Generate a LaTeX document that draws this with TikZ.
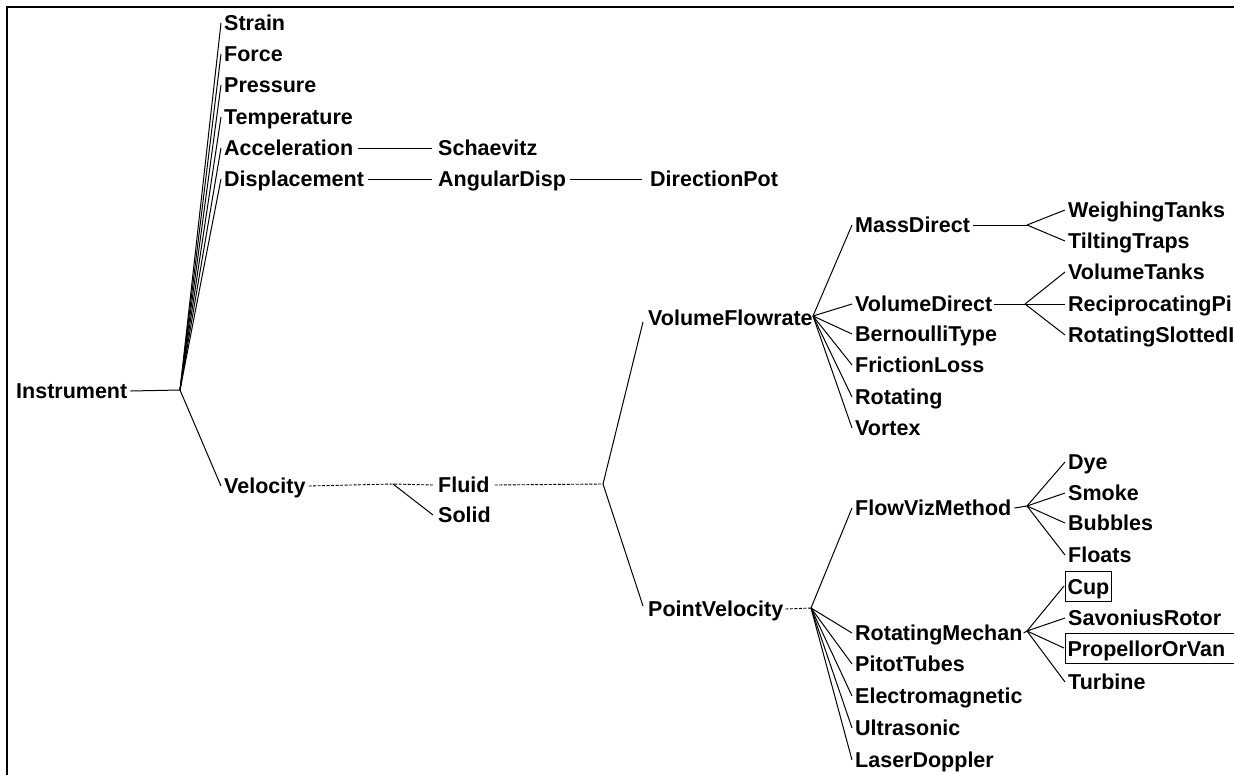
\documentclass[tikz,border=0pt]{standalone}
\usepackage{fontspec}
\setmainfont{Liberation Sans}
\begin{document}
\begin{tikzpicture}[x=1pt,y=-1pt,
  lbl/.style={font=\fontsize{21.5}{24}\selectfont\bfseries, inner sep=0pt, anchor=west, text height=15pt, text depth=0pt},
  boxed/.style={lbl, draw, line width=1pt, inner xsep=2pt, inner ysep=1pt, text height=22pt, text depth=6pt},
  ln/.style={line width=1pt},
  dl/.style={line width=0.9pt, dash pattern=on 3pt off 1.5pt}]
\useasboundingbox (0,0) rectangle (1234,774);
\clip (0,0) rectangle (1234,774);
\fill[white] (0,0) rectangle (1234,774);
\draw[line width=2pt] (7,776) -- (7,7) -- (1236,7);

% nodes
\node[lbl] (inst) at (16,391) {Instrument};
\coordinate (f0) at (180,390);
\node[lbl] (strain) at (224,23) {Strain};
\node[lbl] (force) at (224,54) {Force};
\node[lbl] (press) at (224,85) {Pressure};
\node[lbl] (temp) at (224,117) {Temperature};
\node[lbl] (acc) at (224,148) {Acceleration};
\node[lbl] (disp) at (224,179) {Displacement};
\node[lbl] (vel) at (224,486) {Velocity};
\node[lbl] (sch) at (438,148) {Schaevitz};
\node[lbl] (ang) at (438,179) {AngularDisp};
\node[lbl] (dir) at (650,179) {DirectionPot};
\coordinate (fv) at (393,484);
\node[lbl] (fluid) at (438,485) {Fluid};
\node[lbl] (solid) at (438,515) {Solid};
\coordinate (ff) at (603,484);
\node[lbl] (vf) at (648,318) {VolumeFlowrate};
\node[lbl] (pv) at (648,609) {PointVelocity};
\coordinate (fvf) at (813,316);
\node[lbl] (mass) at (855,225) {MassDirect};
\node[lbl] (vold) at (855,304) {VolumeDirect};
\node[lbl] (bern) at (855,334) {BernoulliType};
\node[lbl] (fric) at (855,365) {FrictionLoss};
\node[lbl] (rot) at (855,397) {Rotating};
\node[lbl] (vort) at (855,428) {Vortex};
\coordinate (fmass) at (1027,225);
\node[lbl] (weigh) at (1068,210) {WeighingTanks};
\node[lbl] (tilt) at (1068,241) {TiltingTraps};
\coordinate (fvold) at (1025,304);
\node[lbl] (vtank) at (1068,272) {VolumeTanks};
\node[lbl] (recip) at (1068,304) {ReciprocatingPi};
\node[lbl] (rslot) at (1068,335) {RotatingSlottedI};
\coordinate (fpv) at (811,608);
\node[lbl] (fviz) at (855,508) {FlowVizMethod};
\node[lbl] (rmech) at (855,633) {RotatingMechan};
\node[lbl] (pitot) at (855,664) {PitotTubes};
\node[lbl] (emag) at (855,696) {Electromagnetic};
\node[lbl] (ultra) at (855,728) {Ultrasonic};
\node[lbl] (laser) at (855,760) {LaserDoppler};
\coordinate (ffviz) at (1027,506);
\node[lbl] (dye) at (1068,462) {Dye};
\node[lbl] (smoke) at (1068,493) {Smoke};
\node[lbl] (bubb) at (1068,523) {Bubbles};
\node[lbl] (flts) at (1068,555) {Floats};
\coordinate (frm) at (1027,631);
\node[boxed] (cup) at (1065,586) {Cup};
\node[lbl] (savo) at (1068,618) {SavoniusRotor};
\node[boxed, text width=172pt, align=left] (prop) at (1065,648) {PropellorOrVan};
\node[lbl] (turb) at (1068,682) {Turbine};

% connectors
\draw[ln] ([xshift=3pt]inst.east) -- (f0);
\foreach \n in {strain,force,press,temp,acc,disp,vel}
  \draw[ln] (f0) -- ([xshift=-3pt]\n.west);
\draw[ln] ([xshift=5pt]acc.east) -- ([xshift=-6pt]sch.west);
\draw[ln] ([xshift=4pt]disp.east) -- ([xshift=-6pt]ang.west);
\draw[ln] ([xshift=4pt]ang.east) -- ([xshift=-8pt]dir.west);
\draw[dl] ([xshift=3pt]vel.east) -- (fv) -- ([xshift=-5pt]fluid.west);
\draw[ln] (fv) -- ([xshift=-5pt]solid.west);
\draw[dl] ([xshift=5pt]fluid.east) -- (ff);
\draw[ln] (ff) -- ([xshift=-5pt,yshift=-4pt]vf.west);
\draw[ln] (ff) -- ([xshift=-5pt,yshift=3pt]pv.west);
\foreach \n in {mass,vold,bern,fric,rot,vort}
  \draw[ln] (fvf) -- ([xshift=-3pt]\n.west);
\draw[ln] ([xshift=3pt]mass.east) -- (fmass);
\foreach \n in {weigh,tilt}
  \draw[ln] (fmass) -- ([xshift=-3pt]\n.west);
\draw[ln] ([xshift=2pt]vold.east) -- (fvold);
\foreach \n in {vtank,recip,rslot}
  \draw[ln] (fvold) -- ([xshift=-3pt]\n.west);
\draw[dl] ([xshift=2pt]pv.east) -- (fpv);
\foreach \n in {fviz,rmech,pitot,emag,ultra,laser}
  \draw[ln] (fpv) -- ([xshift=-3pt]\n.west);
\draw[ln] ([xshift=3pt]fviz.east) -- (ffviz);
\foreach \n in {dye,smoke,bubb,flts}
  \draw[ln] (ffviz) -- ([xshift=-3pt]\n.west);
\draw[ln] ([xshift=1pt]rmech.east) -- (frm);
\foreach \n in {savo,turb}
  \draw[ln] (frm) -- ([xshift=-3pt]\n.west);
\foreach \n in {cup,prop}
  \draw[ln] (frm) -- ([xshift=-1pt]\n.west);
\end{tikzpicture}
\end{document}
